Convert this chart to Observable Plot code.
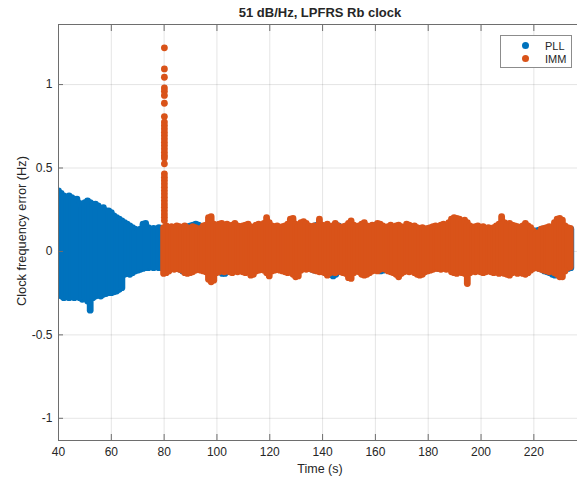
<!DOCTYPE html>
<html><head><meta charset="utf-8">
<script src="https://cdn.jsdelivr.net/npm/d3@7"></script>
<script src="https://cdn.jsdelivr.net/npm/@observablehq/plot@0.6"></script>
<style>
html,body{margin:0;padding:0;background:#fff;overflow:hidden;}
#wrap{position:relative;width:577px;height:481px;font-family:"Liberation Sans",Arial,Helvetica,sans-serif;color:#262626;}
#wrap svg{position:absolute;left:0;top:0;overflow:visible;}
.title{position:absolute;left:320px;top:5px;transform:translateX(-50%);font-weight:bold;font-size:13px;white-space:nowrap;}
.xlabel{position:absolute;left:320px;top:462px;transform:translateX(-50%);font-size:12.5px;white-space:nowrap;}
.ylabel{position:absolute;left:21px;top:231px;transform:translate(-50%,-50%) rotate(-90deg);font-size:12.8px;white-space:nowrap;}
.legend{position:absolute;left:500px;top:35px;width:72px;height:33px;border:1px solid #8c8c8c;background:#fff;box-sizing:border-box;font-size:11px;}
.legend .sw{position:absolute;left:21px;width:7px;height:7px;border-radius:50%;}
.legend .lb{position:absolute;left:44px;line-height:12px;}
</style>
</head><body>
<div id="wrap">
  <div class="title">51 dB/Hz, LPFRS Rb clock</div>
  <div class="xlabel">Time (s)</div>
  <div class="ylabel">Clock frequency error (Hz)</div>
</div>
<script>
// ---- data (band envelopes: dot-centre upper / lower values, 1 s apart) ----
const seriesNames = ["PLL", "IMM"];
const seriesColors = ["#0072BD", "#D95319"];
const xTicks = [40, 60, 80, 100, 120, 140, 160, 180, 200, 220];
const yTicks = [-1, -0.5, 0, 0.5, 1];

const pllStart = 40;   // s
const pllHi = [
  0.36,0.345,0.33,0.32,0.33,0.32,0.31,0.31,0.285,0.265,
  0.29,0.30,0.29,0.28,0.28,0.27,0.25,0.26,0.24,0.24,
  0.23,0.21,0.20,0.19,0.18,0.17,0.16,0.15,0.14,0.13,
  0.12,0.13,0.16,0.165,0.14,0.13,0.135,0.13,0.14,0.135,
  0.13,0.125,0.13,0.12,0.13,0.125,0.13,0.135,0.14,0.145,
  0.15,0.155,0.16,0.155,0.14,0.13,0.125,0.13,0.12,0.125,
  0.13,0.125,0.13,0.12,0.125,0.13,0.125,0.12,0.13,0.125,
  0.12,0.125,0.13,0.125,0.12,0.13,0.125,0.12,0.125,0.13,
  0.125,0.12,0.13,0.125,0.12,0.125,0.13,0.125,0.12,0.125,
  0.13,0.125,0.12,0.125,0.13,0.135,0.14,0.15,0.155,0.14,
  0.13,0.125,0.13,0.135,0.145,0.155,0.15,0.14,0.13,0.125,
  0.12,0.125,0.13,0.125,0.12,0.125,0.13,0.135,0.14,0.15,
  0.155,0.15,0.14,0.13,0.125,0.12,0.125,0.13,0.125,0.12,
  0.125,0.13,0.125,0.12,0.125,0.13,0.125,0.12,0.125,0.13,
  0.125,0.12,0.125,0.13,0.125,0.12,0.125,0.13,0.125,0.12,
  0.125,0.13,0.125,0.12,0.125,0.13,0.125,0.12,0.125,0.13,
  0.125,0.12,0.125,0.13,0.125,0.12,0.125,0.13,0.125,0.12,
  0.125,0.13,0.125,0.12,0.125,0.13,0.125,0.12,0.125,0.125,
  0.12,0.12,0.125,0.13,0.125,0.12,0.125,0.13,0.135,0.14,
  0.14,0.14,0.135,0.135,0.13
];
const pllLo = [
  -0.23,-0.27,-0.28,-0.275,-0.28,-0.275,-0.28,-0.27,-0.28,-0.29,
  -0.28,-0.30,-0.355,-0.28,-0.27,-0.265,-0.27,-0.26,-0.255,-0.25,
  -0.25,-0.245,-0.24,-0.23,-0.22,-0.14,-0.135,-0.14,-0.13,-0.12,
  -0.115,-0.11,-0.105,-0.1,-0.1,-0.095,-0.1,-0.095,-0.1,-0.1,
  -0.1,-0.105,-0.1,-0.095,-0.1,-0.105,-0.11,-0.12,-0.125,-0.12,
  -0.11,-0.105,-0.1,-0.105,-0.11,-0.115,-0.12,-0.115,-0.11,-0.105,
  -0.11,-0.12,-0.135,-0.135,-0.12,-0.11,-0.105,-0.1,-0.105,-0.11,
  -0.105,-0.1,-0.105,-0.11,-0.105,-0.1,-0.105,-0.11,-0.105,-0.1,
  -0.105,-0.11,-0.105,-0.1,-0.105,-0.11,-0.105,-0.1,-0.105,-0.11,
  -0.105,-0.1,-0.095,-0.1,-0.1,-0.105,-0.11,-0.115,-0.11,-0.105,
  -0.11,-0.12,-0.13,-0.14,-0.15,-0.14,-0.12,-0.11,-0.105,-0.1,
  -0.105,-0.11,-0.105,-0.1,-0.105,-0.11,-0.105,-0.1,-0.105,-0.11,
  -0.11,-0.115,-0.12,-0.115,-0.11,-0.105,-0.1,-0.105,-0.11,-0.105,
  -0.1,-0.105,-0.11,-0.105,-0.1,-0.105,-0.11,-0.105,-0.1,-0.105,
  -0.1,-0.095,-0.1,-0.1,-0.105,-0.1,-0.095,-0.1,-0.105,-0.11,
  -0.105,-0.1,-0.105,-0.11,-0.105,-0.1,-0.105,-0.11,-0.105,-0.1,
  -0.105,-0.11,-0.105,-0.1,-0.105,-0.11,-0.105,-0.1,-0.105,-0.11,
  -0.105,-0.1,-0.105,-0.11,-0.105,-0.1,-0.105,-0.1,-0.1,-0.1,
  -0.095,-0.1,-0.105,-0.11,-0.12,-0.125,-0.13,-0.14,-0.145,-0.14,
  -0.13,-0.12,-0.11,-0.105,-0.1
];

const immStart = 79.8; // s
const immHi = [
  0.14,0.15,0.14,0.145,0.14,0.15,0.145,0.14,0.15,0.14,
  0.135,0.145,0.14,0.13,0.135,0.15,0.155,0.2,0.205,0.16,
  0.15,0.16,0.165,0.155,0.16,0.15,0.155,0.165,0.15,0.145,
  0.15,0.155,0.16,0.145,0.14,0.155,0.16,0.15,0.165,0.2,
  0.17,0.15,0.145,0.15,0.14,0.145,0.15,0.16,0.19,0.195,
  0.16,0.15,0.17,0.175,0.165,0.15,0.145,0.15,0.14,0.19,
  0.155,0.15,0.16,0.145,0.15,0.165,0.15,0.14,0.145,0.15,
  0.165,0.18,0.155,0.145,0.15,0.16,0.17,0.15,0.145,0.155,
  0.15,0.165,0.16,0.15,0.14,0.145,0.155,0.14,0.15,0.155,
  0.145,0.14,0.16,0.155,0.145,0.15,0.14,0.135,0.14,0.13,
  0.135,0.14,0.145,0.15,0.14,0.155,0.16,0.15,0.17,0.19,
  0.2,0.195,0.19,0.175,0.185,0.17,0.15,0.14,0.145,0.15,
  0.14,0.145,0.135,0.14,0.13,0.14,0.15,0.16,0.205,0.17,
  0.16,0.165,0.155,0.15,0.145,0.14,0.15,0.165,0.15,0.14,
  0.12,0.1,0.11,0.13,0.135,0.14,0.145,0.14,0.17,0.19,
  0.195,0.185,0.15,0.14,0.135
];
const immLo = [
  -0.135,-0.13,-0.12,-0.105,-0.11,-0.105,-0.11,-0.115,-0.13,-0.135,
  -0.13,-0.125,-0.115,-0.11,-0.115,-0.12,-0.125,-0.17,-0.185,-0.175,
  -0.13,-0.125,-0.12,-0.125,-0.12,-0.125,-0.13,-0.12,-0.125,-0.12,
  -0.125,-0.13,-0.125,-0.145,-0.14,-0.12,-0.115,-0.11,-0.115,-0.13,
  -0.15,-0.12,-0.115,-0.11,-0.115,-0.12,-0.125,-0.13,-0.125,-0.14,
  -0.155,-0.15,-0.115,-0.105,-0.11,-0.105,-0.11,-0.115,-0.12,-0.125,
  -0.125,-0.13,-0.145,-0.13,-0.125,-0.13,-0.12,-0.125,-0.13,-0.135,
  -0.16,-0.165,-0.13,-0.12,-0.125,-0.14,-0.145,-0.14,-0.13,-0.12,
  -0.115,-0.12,-0.11,-0.105,-0.11,-0.12,-0.125,-0.13,-0.14,-0.155,
  -0.135,-0.125,-0.12,-0.125,-0.12,-0.13,-0.14,-0.145,-0.14,-0.125,
  -0.12,-0.115,-0.11,-0.105,-0.105,-0.11,-0.105,-0.11,-0.105,-0.125,
  -0.13,-0.135,-0.125,-0.13,-0.135,-0.195,-0.13,-0.12,-0.125,-0.12,
  -0.125,-0.13,-0.125,-0.12,-0.125,-0.13,-0.125,-0.135,-0.13,-0.135,
  -0.14,-0.145,-0.13,-0.125,-0.135,-0.13,-0.135,-0.14,-0.13,-0.115,
  -0.105,-0.1,-0.105,-0.11,-0.115,-0.12,-0.125,-0.12,-0.13,-0.14,
  -0.155,-0.155,-0.12,-0.1,-0.095
];

// IMM transient spike just after switch-over (individual dots)
const spikeT = 80.1;
const spikeValues = [1.22,1.094,1.044,0.98,0.96,0.935,0.888,0.808,0.775,0.755,0.735,0.715,0.695,
  0.675,0.655,0.635,0.615,0.595,0.575,0.56,0.525,0.465,0.445,0.425,0.405,0.385,0.365,0.345,
  0.325,0.305,0.285,0.265,0.245,0.225,0.205,0.185];

// ---- build tables ----
const pllRows = pllHi.map((hi, i) => ({t: pllStart + i, hi, lo: pllLo[i]}));
const immRows = immHi.map((hi, i) => ({t: immStart + i, hi, lo: immLo[i]}));
const spikeRows = spikeValues.map(v => ({t: spikeT, v}));

const axisColor = "#6e6e6e";
const dotD = 6.8;

const chart = Plot.plot({
  width: 577, height: 481,
  marginLeft: 58, marginRight: -6, marginTop: 24, marginBottom: 41,
  x: {domain: [40, 238.8]},
  y: {domain: [-1.133, 1.36]},
  style: {fontFamily: '"Liberation Sans", Arial, Helvetica, sans-serif', fontSize: "12px", color: "#262626", background: "transparent"},
  marks: [
    Plot.gridX(xTicks, {stroke: "#262626", strokeOpacity: 0.12}),
    Plot.gridY(yTicks, {stroke: "#262626", strokeOpacity: 0.12}),
    Plot.ruleX(pllRows, {x: "t", y1: "lo", y2: "hi", stroke: seriesColors[0], strokeWidth: dotD, strokeLinecap: "round", clip: true}),
    Plot.ruleX(immRows, {x: "t", y1: "lo", y2: "hi", stroke: seriesColors[1], strokeWidth: dotD, strokeLinecap: "round"}),
    Plot.dot(spikeRows, {x: "t", y: "v", r: dotD / 2, fill: seriesColors[1], stroke: null}),
    Plot.frame({stroke: axisColor}),
    Plot.axisX(xTicks, {anchor: "bottom", tickSize: -6, tickPadding: 13, stroke: axisColor, fill: "#262626", label: null, tickFormat: d => String(d)}),
    Plot.axisX(xTicks, {anchor: "top", tickSize: -6, stroke: axisColor, label: null, tickFormat: () => ""}),
    Plot.axisY(yTicks, {anchor: "left", tickSize: -5, tickPadding: 11, stroke: axisColor, fill: "#262626", label: null, tickFormat: d => String(d)})
  ]
});
const wrap = document.getElementById("wrap");
wrap.insertBefore(chart, wrap.firstChild);

// legend (HTML overlay)
const lg = document.createElement("div");
lg.className = "legend";
seriesNames.forEach((name, i) => {
  const sw = document.createElement("div");
  sw.className = "sw";
  sw.style.background = seriesColors[i];
  sw.style.top = (6 + i * 13.3) + "px";
  const lb = document.createElement("div");
  lb.className = "lb";
  lb.style.top = (3.5 + i * 13.3) + "px";
  lb.textContent = name;
  lg.appendChild(sw); lg.appendChild(lb);
});
wrap.appendChild(lg);
</script>
</body></html>
